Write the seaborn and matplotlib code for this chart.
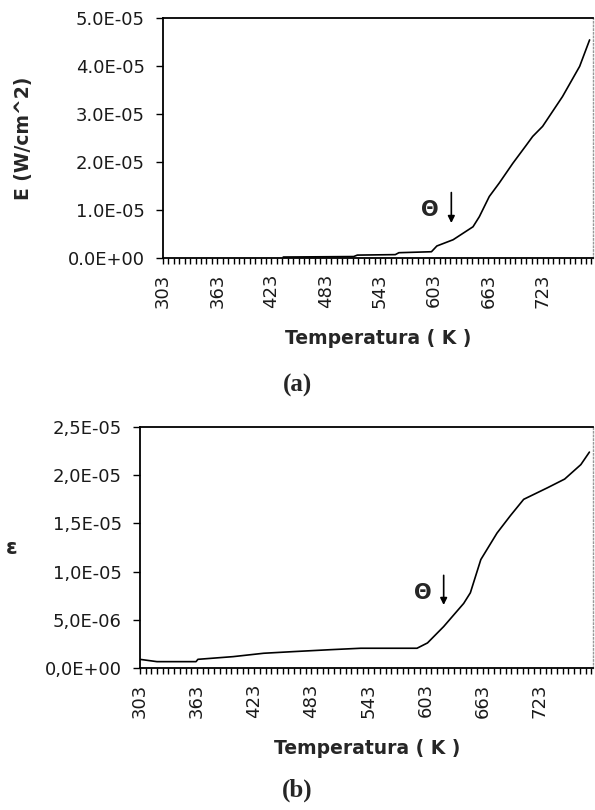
import matplotlib
matplotlib.use("Agg")
import matplotlib.pyplot as plt
from matplotlib.ticker import FuncFormatter, MultipleLocator, FixedLocator
import seaborn as sns

# courbe (a) : E (W/cm^2) en fonction de la température
temp_a = [436, 478, 514, 518, 560, 564, 600, 606, 624, 646, 653, 664, 675, 690,
          705, 712, 723, 745, 764, 775]
E_a = [0.2e-6, 0.25e-6, 0.3e-6, 0.6e-6, 0.7e-6, 1.1e-6, 1.3e-6, 2.5e-6, 3.8e-6,
       6.5e-6, 8.6e-6, 1.28e-5, 1.56e-5, 1.97e-5, 2.35e-5, 2.53e-5, 2.74e-5,
       3.36e-5, 3.99e-5, 4.54e-5]

# courbe (b) : emissivité
temp_b = [303, 321, 362, 364, 401, 433, 464, 503, 535, 594, 605, 622, 643, 650,
          661, 678, 692, 706, 731, 749, 766, 775]
eps_b = [0.9e-6, 0.66e-6, 0.66e-6, 0.9e-6, 1.18e-6, 1.53e-6, 1.7e-6, 1.9e-6,
         2.05e-6, 2.05e-6, 2.6e-6, 4.3e-6, 6.7e-6, 7.8e-6, 1.125e-5, 1.40e-5,
         1.58e-5, 1.75e-5, 1.87e-5, 1.96e-5, 2.11e-5, 2.24e-5]

xtick_labels = [303, 363, 423, 483, 543, 603, 663, 723]
xtick_minor = list(range(303, 780, 6))

sns.set_style("ticks")
plt.rcParams["font.family"] = ["DejaVu Sans"]

fig = plt.figure(figsize=(5.95, 8.10), dpi=100)
ax_a = fig.add_axes([0.274, 0.6815, 0.723, 0.2965])
ax_b = fig.add_axes([0.235, 0.1753, 0.762, 0.2975])


def style_axis(ax, ymax, ystep, fmt):
    ax.set_xlim(303, 779)
    ax.set_ylim(0, ymax)
    ax.xaxis.set_major_locator(FixedLocator(xtick_labels))
    ax.xaxis.set_minor_locator(FixedLocator(xtick_minor))
    ax.yaxis.set_major_locator(MultipleLocator(ystep))
    ax.yaxis.set_major_formatter(FuncFormatter(fmt))
    ax.tick_params(axis="x", which="both", direction="out", length=4, width=1,
                   color="black", labelsize=13, labelrotation=90, pad=7,
                   labelcolor="#1a1a1a")
    ax.tick_params(axis="y", direction="out", length=5, width=1, color="black",
                   labelsize=13, pad=8, labelcolor="#1a1a1a")
    for side in ["left", "bottom", "top"]:
        ax.spines[side].set_visible(True)
        ax.spines[side].set_color("black")
        ax.spines[side].set_linewidth(1.3)
    ax.spines["right"].set_visible(True)
    ax.spines["right"].set_color("#999999")
    ax.spines["right"].set_linestyle(":")
    ax.spines["right"].set_linewidth(1)
    ax.set_xlabel("")
    ax.set_ylabel("")
    ax.grid(False)


sns.lineplot(x=temp_a, y=E_a, ax=ax_a, color="black", linewidth=1.2,
             sort=False, estimator=None)
style_axis(ax_a, 5e-5, 1e-5, lambda v, p: f"{v:.1E}")

sns.lineplot(x=temp_b, y=eps_b, ax=ax_b, color="black", linewidth=1.2,
             sort=False, estimator=None)
style_axis(ax_b, 2.5e-5, 5e-6, lambda v, p: f"{v:.1E}".replace(".", ","))

# annotations Theta
ax_a.text(598, 1.0e-5, "Θ", fontsize=15, fontweight="bold", ha="center", va="center")
ax_a.annotate("", xy=(622, 0.67e-5), xytext=(622, 1.42e-5),
              arrowprops=dict(arrowstyle="-|>", color="black", lw=1.2, mutation_scale=10))
ax_b.text(600, 7.8e-6, "Θ", fontsize=15, fontweight="bold", ha="center", va="center")
ax_b.annotate("", xy=(622, 6.25e-6), xytext=(622, 9.9e-6),
              arrowprops=dict(arrowstyle="-|>", color="black", lw=1.2, mutation_scale=10))

# titres des axes
fig.text(24 / 595, 1 - 138 / 810, "E (W/cm^2)", rotation=90, fontsize=13.5,
         fontweight="bold", ha="center", va="center")
fig.text(378 / 595, 1 - 338 / 810, "Temperatura ( K )", fontsize=13.5,
         fontweight="bold", ha="center", va="center")
fig.text(12 / 595, 1 - 548 / 810, "ε", fontsize=15, fontweight="bold",
         ha="center", va="center")
fig.text(367 / 595, 1 - 748 / 810, "Temperatura ( K )", fontsize=13.5,
         fontweight="bold", ha="center", va="center")

fig.text(297 / 595, 1 - 385 / 810, "(a)", fontsize=18, fontweight="bold",
         family="Liberation Serif", ha="center", va="center")
fig.text(297 / 595, 1 - 790 / 810, "(b)", fontsize=18, fontweight="bold",
         family="Liberation Serif", ha="center", va="center")

fig.savefig("out.png", dpi=100)
